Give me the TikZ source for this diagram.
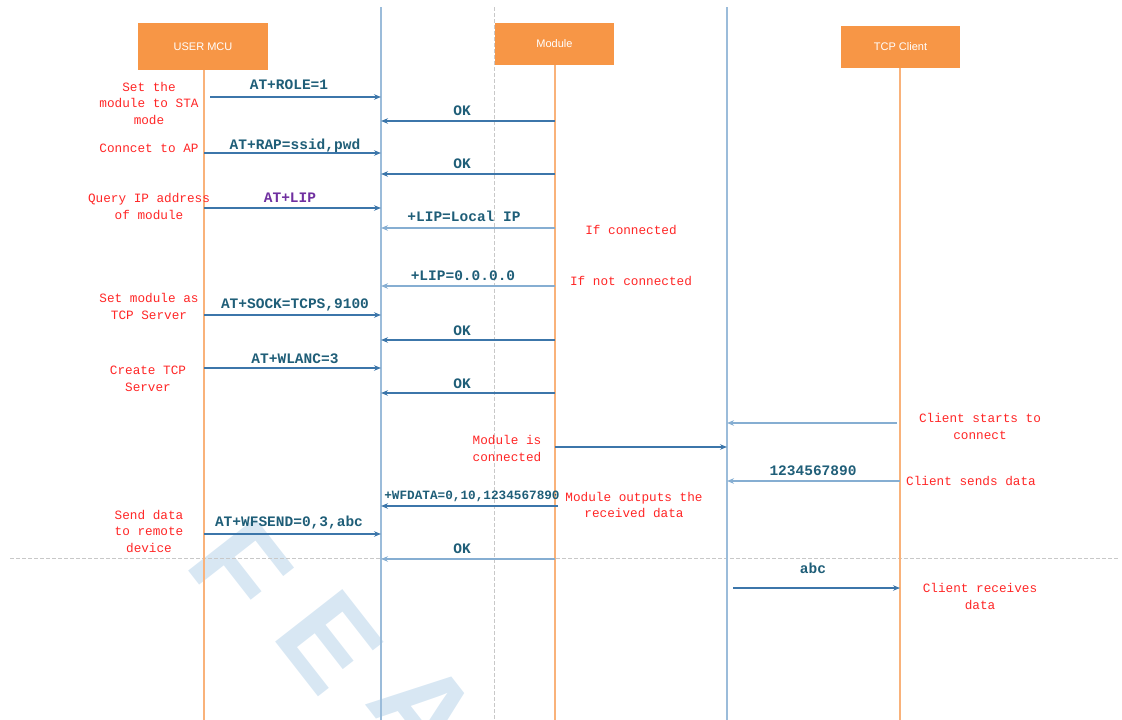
\documentclass[tikz,border=0pt]{standalone}
\usepackage{fontspec}
\setmainfont{Liberation Sans}
\newfontfamily\monofont{Liberation Mono}
\usetikzlibrary{arrows.meta}
\definecolor{boxorange}{HTML}{F79646}
\definecolor{lifeorange}{HTML}{F9B27A}
\definecolor{axisblue}{HTML}{9BBCDA}
\definecolor{msgblue}{HTML}{3C76AA}
\definecolor{msglightblue}{HTML}{86AED2}
\definecolor{labelteal}{HTML}{1F5E78}
\definecolor{labelpurple}{HTML}{7030A0}
\definecolor{notered}{HTML}{FF2626}
\definecolor{sepgray}{HTML}{C8C8C8}
\definecolor{wmblue}{HTML}{D8E7F3}
\newcommand\seqmsg[8][msg]{%
  \coordinate (#2a) at (#3,#5);
  \coordinate (#2b) at (#4,#5);
  \draw[#1] (#2a) -- (#2b);
  \node[msglabel] (#2l) at (#6,#7) {#8};
}
\begin{document}
\begin{tikzpicture}[x=1pt,y=-1pt,
  actor/.style={fill=boxorange,draw=none,minimum width=#1,text=white,font=\fontsize{11}{13}\selectfont,inner sep=0},
  lifeline/.style={draw=lifeorange,line width=1.6pt},
  axisline/.style={draw=axisblue,line width=2pt},
  sepline/.style={draw=sepgray,line width=0.9pt,dash pattern=on 4pt off 2pt},
  msg/.style={draw=msgblue,line width=1.2pt,-{Stealth[length=7pt,width=5.5pt]}},
  msglight/.style={draw=msglightblue,line width=1.5pt,-{Stealth[length=7pt,width=5.5pt,fill=msgblue]}},
  msglabel/.style={text=labelteal,font=\monofont\bfseries\fontsize{14.5}{16}\selectfont,inner sep=0,text height=8.5pt,text depth=0pt},
  note/.style={text=notered,font=\monofont\fontsize{12.7}{16.5}\selectfont,align=center,inner sep=0},
  watermark/.style={text=wmblue,font=\bfseries\fontsize{124}{124}\selectfont,inner sep=0,rotate=-52,anchor=center}
]
\useasboundingbox (0,0) rectangle (1122,720);
\begin{scope}
  \clip (0,0) rectangle (1122,720);
  \node[watermark] (wmF) at (240,568) {F};
  \node[watermark] (wmE) at (330,642) {E};
  \node[watermark] (wmA) at (425,712) {A};
\end{scope}

% actors
\node[actor=130pt,minimum height=47pt] (mcu) at (203,46.5) {USER MCU};
\node[actor=119pt,minimum height=42pt] (mod) at (554.5,44) {Module};
\node[actor=119pt,minimum height=42pt] (cli) at (900.5,47) {TCP Client};

% lifelines and axes
\coordinate (mcuend) at (204,720);
\coordinate (modend) at (555,720);
\coordinate (cliend) at (900,720);
\coordinate (axAtop) at (381,7);
\coordinate (axAbot) at (381,720);
\coordinate (axBtop) at (727,7);
\coordinate (axBbot) at (727,720);
\coordinate (dashtop) at (494,7);
\coordinate (dashbot) at (494,720);
\coordinate (hsepL) at (10,558);
\coordinate (hsepR) at (1118,558);
\draw[sepline] (dashtop) -- (dashbot);
\draw[sepline] (hsepL) -- (hsepR);
\draw[lifeline] (mcu.south -| mcuend) -- (mcuend);
\draw[lifeline] (mod.south -| modend) -- (modend);
\draw[lifeline] (cli.south -| cliend) -- (cliend);
\draw[axisline] (axAtop) -- (axAbot);
\draw[axisline] (axBtop) -- (axBbot);

% messages
\seqmsg{m1}{210}{381}{97}{289}{85}{AT+ROLE=1}
\seqmsg{m2}{555}{381}{121}{462}{111}{OK}
\seqmsg{m3}{204}{381}{153}{295}{145}{AT+RAP=ssid,pwd}
\seqmsg{m4}{555}{381}{174}{462}{164}{OK}
\seqmsg{m5}{204}{381}{208}{290}{198}{\textcolor{labelpurple}{AT+LIP}}
\seqmsg[msglight]{m6}{555}{381}{228}{464}{217}{+LIP=Local IP}
\seqmsg[msglight]{m7}{555}{381}{286}{463}{276}{+LIP=0.0.0.0}
\seqmsg{m8}{204}{381}{315}{295}{304}{AT+SOCK=TCPS,9100}
\seqmsg{m9}{555}{381}{340}{462}{331}{OK}
\seqmsg{m10}{204}{381}{368}{295}{359}{AT+WLANC=3}
\seqmsg{m11}{555}{381}{393}{462}{384}{OK}
\seqmsg[msglight]{m12}{897}{727}{423}{813}{412}{}
\seqmsg{m13}{555}{727}{447}{640}{436}{}
\seqmsg[msglight]{m14}{900}{727}{481}{813}{471}{1234567890}
\seqmsg{m15}{558}{381}{506}{472}{495}{\fontsize{12.7}{14}\selectfont +WFDATA=0,10,1234567890}
\seqmsg{m16}{204}{381}{534}{289}{522}{AT+WFSEND=0,3,abc}
\seqmsg[msglight]{m17}{555}{381}{559}{462}{549}{OK}
\seqmsg{m18}{733}{900}{588}{813}{569}{abc}

% notes
\node[note] (n1) at (149,103) {Set the\\module to STA\\mode};
\node[note] (n2) at (149,148) {Conncet to AP};
\node[note] (n3) at (149,206.5) {Query IP address\\of module};
\node[note] (n4) at (631,230) {If connected};
\node[note] (n5) at (631,281) {If not connected};
\node[note] (n6) at (149,306.5) {Set module as\\TCP Server};
\node[note] (n7) at (148,379) {Create TCP\\Server};
\node[note] (n8) at (980,426.5) {Client starts to\\connect};
\node[note] (n9) at (507,448.5) {Module is\\connected};
\node[note] (n10) at (971,481) {Client sends data};
\node[note] (n11) at (634,505) {Module outputs the\\received data};
\node[note] (n12) at (149,531) {Send data\\to remote\\device};
\node[note] (n13) at (980,596.5) {Client receives\\data};
\end{tikzpicture}
\end{document}
